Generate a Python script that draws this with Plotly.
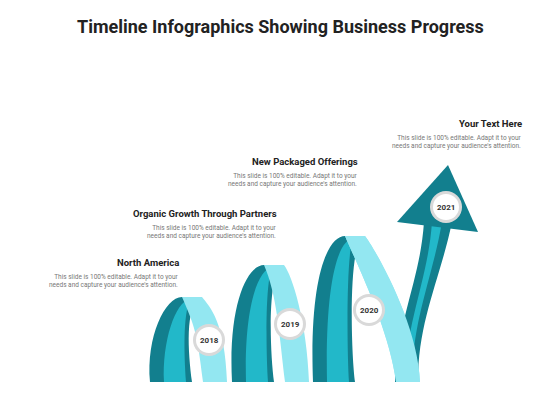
import plotly.graph_objects as go

title = "Timeline Infographics Showing Business Progress"
years = ["2018", "2019", "2020", "2021"]
heads = ["North America", "Organic Growth Through Partners", "New Packaged Offerings", "Your Text Here"]
descs = ["This slide is 100% editable. Adapt it to your<br>needs and capture your audience's attention."] * 4

DARK, MID, LIGHT = "#127f8e", "#22b8c9", "#93e7f1"
BASE = 382
fig = go.Figure()
shapes = []
ann = []

starts = [150, 232, 313]
peaks = [297, 265, 236]
for i in range(3):
    x0 = starts[i]; py = peaks[i]
    shapes.append(dict(type="path", fillcolor=DARK, line=dict(width=0), layer="below",
        path=f"M {x0} {BASE} C {x0-4} {py+40}, {x0+15} {py}, {x0+32} {py} L {x0+50} {py} "
             f"C {x0+35} {py+10}, {x0+38} {BASE-30}, {x0+42} {BASE} Z"))
    shapes.append(dict(type="path", fillcolor=MID, line=dict(width=0), layer="below",
        path=f"M {x0+14} {BASE} C {x0+12} {py+45}, {x0+25} {py+5}, {x0+40} {py+2} "
             f"C {x0+33} {py+20}, {x0+34} {BASE-30}, {x0+36} {BASE} Z"))
    w = 85 if i == 2 else 55
    shapes.append(dict(type="path", fillcolor=LIGHT, line=dict(width=0), layer="below",
        path=f"M {x0+32} {py} L {x0+52} {py} C {x0+60} {py+10}, {x0+w+20} {BASE-60}, {x0+w+22} {BASE} "
             f"L {x0+w-2} {BASE} C {x0+w-8} {BASE-50}, {x0+45} {py+30}, {x0+32} {py} Z"))

shapes.append(dict(type="path", fillcolor=DARK, line=dict(width=0), layer="below",
    path="M 395 382 L 418 382 C 418 320, 440 280, 452 222 L 424 222 C 420 280, 400 310, 395 382 Z"))
shapes.append(dict(type="path", fillcolor=MID, line=dict(width=0), layer="below",
    path="M 405 382 L 412 382 C 412 320, 432 280, 442 222 L 432 222 C 428 280, 406 320, 405 382 Z"))
shapes.append(dict(type="path", fillcolor=DARK, line=dict(width=0), layer="below",
    path="M 397 222 L 448 165 L 478 232 Z"))
x0 = starts[2]; py = peaks[2]
shapes.append(dict(type="path", fillcolor=LIGHT, line=dict(width=0), layer="below",
    path=f"M {x0+32} {py} L {x0+52} {py} C {x0+60} {py+10}, {x0+105} {BASE-60}, {x0+107} {BASE} "
         f"L {x0+83} {BASE} C {x0+77} {BASE-50}, {x0+45} {py+30}, {x0+32} {py} Z"))

cx = [209, 290, 369, 446]
cy = [340, 324, 310, 207]
for i in range(4):
    shapes.append(dict(type="circle", x0=cx[i]-16, x1=cx[i]+16, y0=cy[i]-16, y1=cy[i]+16,
                       fillcolor="#d9d9d9", line=dict(width=0)))
    shapes.append(dict(type="circle", x0=cx[i]-13, x1=cx[i]+13, y0=cy[i]-13, y1=cy[i]+13,
                       fillcolor="white", line=dict(width=0)))
    ann.append(dict(x=cx[i], y=cy[i], text=f"<b>{years[i]}</b>", showarrow=False,
                    font=dict(size=8, color="#333", family="Roboto")))

tx = [181, 279, 360, 524]
ty = [262, 213, 161, 123]
for i in range(4):
    ann.append(dict(x=tx[i], y=ty[i], text=f"<b>{heads[i]}</b>", showarrow=False, xanchor="right",
                    yanchor="middle", font=dict(size=9.5, color="#222", family="Roboto")))
    ann.append(dict(x=tx[i], y=ty[i]+9, text=descs[i], showarrow=False, xanchor="right", align="right",
                    yanchor="top", font=dict(size=6.5, color="#777", family="Roboto")))

ann.append(dict(x=280, y=26, text=f"<b>{title}</b>", showarrow=False,
                font=dict(size=18, color="#222", family="Roboto")))

fig.update_layout(width=560, height=420, margin=dict(l=0, r=0, t=0, b=0),
                  plot_bgcolor="white", paper_bgcolor="white", shapes=shapes, annotations=ann,
                  xaxis=dict(range=[8, 568], visible=False),
                  yaxis=dict(range=[428, 8], visible=False), showlegend=False)
fig.write_html("out.html")
